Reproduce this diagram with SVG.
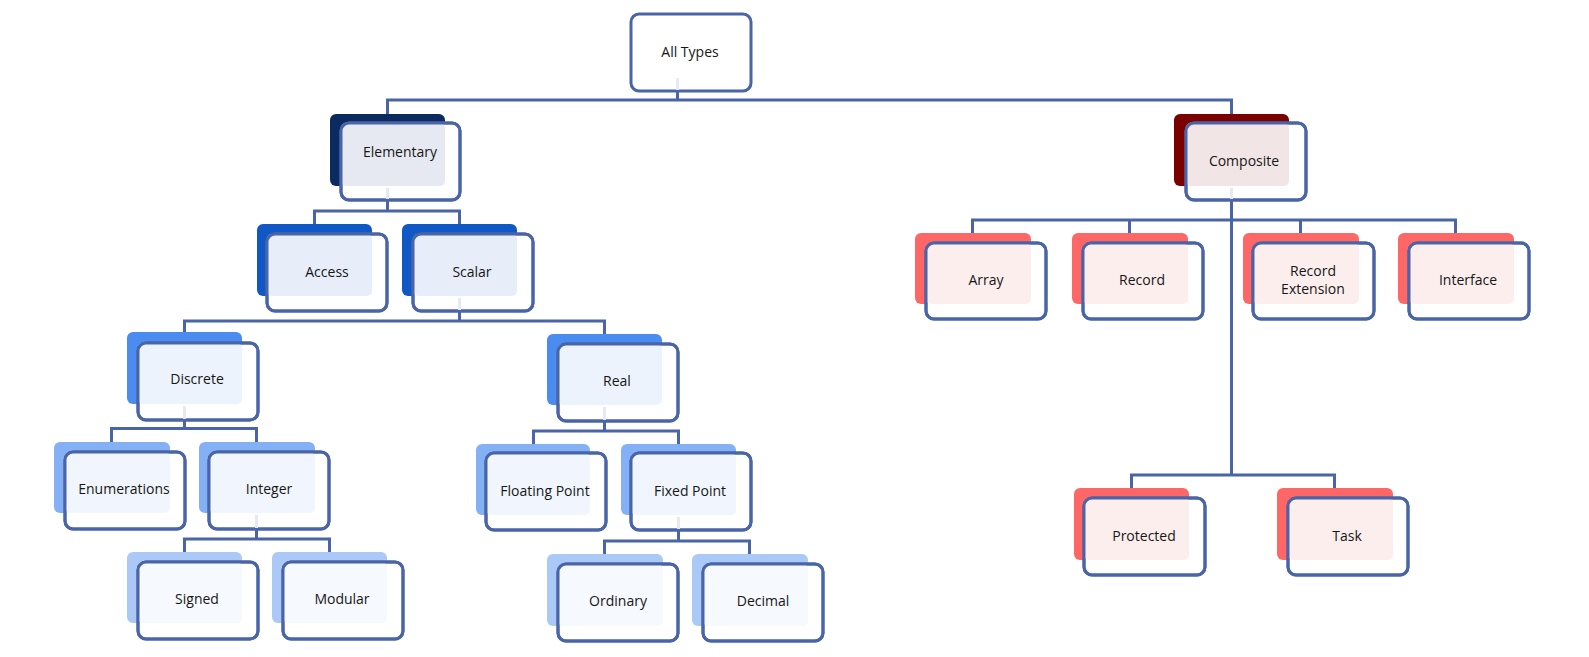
<svg xmlns="http://www.w3.org/2000/svg" width="1589" height="657" viewBox="0 0 1589 657">
  <style>
    .back { stroke: none; }
    .front { fill: #ffffff; stroke: #4a64a8; stroke-width: 3; }
    .frame { fill: none; stroke: #4a64a8; stroke-width: 3; }
    .label { font-family: "Open Sans", "Noto Sans", "Liberation Sans", sans-serif; font-size: 14px; fill: #161616; text-anchor: middle; }
    .wire { fill: none; stroke: #4a64a8; stroke-width: 3; }
    .faint { fill: none; stroke: #e6e9f3; stroke-width: 3; }
    .l1 .back { fill: #0b2b60; } .l1 .tint { fill: #e6e9f2; }
    .cp .back { fill: #7b0000; } .cp .tint { fill: #f2e5e6; }
    .l2 .back { fill: #1158c7; } .l2 .tint { fill: #e7eef9; }
    .l3 .back { fill: #4a8cf0; } .l3 .tint { fill: #edf3fd; }
    .l4 .back { fill: #84b0f5; } .l4 .tint { fill: #f1f6fe; }
    .l5 .back { fill: #aac9f7; } .l5 .tint { fill: #f6f9fe; }
    .rd .back { fill: #ff6666; } .rd .tint { fill: #fdeeee; }
  </style>

  <rect width="1589" height="657" fill="#ffffff"/>

  <!-- each node: coloured back card, white front card, tinted overlap, outline -->
  <g id="node-all-types">
    <rect class="front" x="631" y="14" width="120" height="77" rx="8"/>
    <text class="label" x="690" y="57">All Types</text>
  </g>

  <g id="node-elementary" class="l1">
    <rect class="back" x="330" y="114" width="115" height="72" rx="6"/>
    <rect class="front" x="341" y="123" width="119" height="77" rx="8" stroke="none"/>
    <rect class="tint" x="341" y="123" width="104" height="63" rx="5"/>
    <rect class="frame" x="341" y="123" width="119" height="77" rx="8"/>
    <text class="label" x="400" y="157">Elementary</text>
  </g>

  <g id="node-composite" class="cp">
    <rect class="back" x="1174" y="114" width="115" height="72" rx="6"/>
    <rect class="front" x="1186" y="123" width="120" height="77" rx="8" stroke="none"/>
    <rect class="tint" x="1186" y="123" width="103" height="63" rx="5"/>
    <rect class="frame" x="1186" y="123" width="120" height="77" rx="8"/>
    <text class="label" x="1244" y="166">Composite</text>
  </g>

  <g id="node-access" class="l2">
    <rect class="back" x="257" y="224" width="115" height="72" rx="6"/>
    <rect class="front" x="267" y="234" width="120" height="77" rx="8" stroke="none"/>
    <rect class="tint" x="267" y="234" width="105" height="62" rx="5"/>
    <rect class="frame" x="267" y="234" width="120" height="77" rx="8"/>
    <text class="label" x="327" y="277">Access</text>
  </g>

  <g id="node-scalar" class="l2">
    <rect class="back" x="402" y="224" width="115" height="72" rx="6"/>
    <rect class="front" x="413" y="234" width="120" height="77" rx="8" stroke="none"/>
    <rect class="tint" x="413" y="234" width="104" height="62" rx="5"/>
    <rect class="frame" x="413" y="234" width="120" height="77" rx="8"/>
    <text class="label" x="472" y="277">Scalar</text>
  </g>

  <g id="node-discrete" class="l3">
    <rect class="back" x="127" y="332" width="115" height="72" rx="6"/>
    <rect class="front" x="138" y="343" width="120" height="77" rx="8" stroke="none"/>
    <rect class="tint" x="138" y="343" width="104" height="61" rx="5"/>
    <rect class="frame" x="138" y="343" width="120" height="77" rx="8"/>
    <text class="label" x="197" y="384">Discrete</text>
  </g>

  <g id="node-real" class="l3">
    <rect class="back" x="547" y="334" width="115" height="71" rx="6"/>
    <rect class="front" x="558" y="344" width="120" height="77" rx="8" stroke="none"/>
    <rect class="tint" x="558" y="344" width="104" height="61" rx="5"/>
    <rect class="frame" x="558" y="344" width="120" height="77" rx="8"/>
    <text class="label" x="617" y="386">Real</text>
  </g>

  <g id="node-enumerations" class="l4">
    <rect class="back" x="54" y="442" width="116" height="71" rx="6"/>
    <rect class="front" x="65" y="452" width="120" height="77" rx="8" stroke="none"/>
    <rect class="tint" x="65" y="452" width="105" height="61" rx="5"/>
    <rect class="frame" x="65" y="452" width="120" height="77" rx="8"/>
    <text class="label" x="124" y="494">Enumerations</text>
  </g>

  <g id="node-integer" class="l4">
    <rect class="back" x="199" y="442" width="116" height="71" rx="6"/>
    <rect class="front" x="209" y="452" width="120" height="77" rx="8" stroke="none"/>
    <rect class="tint" x="209" y="452" width="106" height="61" rx="5"/>
    <rect class="frame" x="209" y="452" width="120" height="77" rx="8"/>
    <text class="label" x="269" y="494">Integer</text>
  </g>

  <g id="node-floating-point" class="l4">
    <rect class="back" x="476" y="444" width="114" height="71" rx="6"/>
    <rect class="front" x="486" y="453" width="120" height="77" rx="8" stroke="none"/>
    <rect class="tint" x="486" y="453" width="104" height="62" rx="5"/>
    <rect class="frame" x="486" y="453" width="120" height="77" rx="8"/>
    <text class="label" x="545" y="496">Floating Point</text>
  </g>

  <g id="node-fixed-point" class="l4">
    <rect class="back" x="621" y="444" width="115" height="71" rx="6"/>
    <rect class="front" x="631" y="453" width="120" height="77" rx="8" stroke="none"/>
    <rect class="tint" x="631" y="453" width="105" height="62" rx="5"/>
    <rect class="frame" x="631" y="453" width="120" height="77" rx="8"/>
    <text class="label" x="690" y="496">Fixed Point</text>
  </g>

  <g id="node-signed" class="l5">
    <rect class="back" x="127" y="552" width="115" height="71" rx="6"/>
    <rect class="front" x="138" y="562" width="120" height="77" rx="8" stroke="none"/>
    <rect class="tint" x="138" y="562" width="104" height="61" rx="5"/>
    <rect class="frame" x="138" y="562" width="120" height="77" rx="8"/>
    <text class="label" x="197" y="604">Signed</text>
  </g>

  <g id="node-modular" class="l5">
    <rect class="back" x="272" y="552" width="115" height="71" rx="6"/>
    <rect class="front" x="283" y="562" width="120" height="77" rx="8" stroke="none"/>
    <rect class="tint" x="283" y="562" width="104" height="61" rx="5"/>
    <rect class="frame" x="283" y="562" width="120" height="77" rx="8"/>
    <text class="label" x="342" y="604">Modular</text>
  </g>

  <g id="node-ordinary" class="l5">
    <rect class="back" x="547" y="554" width="116" height="72" rx="6"/>
    <rect class="front" x="558" y="564" width="120" height="77" rx="8" stroke="none"/>
    <rect class="tint" x="558" y="564" width="105" height="62" rx="5"/>
    <rect class="frame" x="558" y="564" width="120" height="77" rx="8"/>
    <text class="label" x="618" y="606">Ordinary</text>
  </g>

  <g id="node-decimal" class="l5">
    <rect class="back" x="692" y="554" width="116" height="72" rx="6"/>
    <rect class="front" x="703" y="564" width="120" height="77" rx="8" stroke="none"/>
    <rect class="tint" x="703" y="564" width="105" height="62" rx="5"/>
    <rect class="frame" x="703" y="564" width="120" height="77" rx="8"/>
    <text class="label" x="763" y="606">Decimal</text>
  </g>

  <g id="node-array" class="rd">
    <rect class="back" x="915" y="233" width="116" height="71" rx="6"/>
    <rect class="front" x="926" y="243" width="120" height="76" rx="8" stroke="none"/>
    <rect class="tint" x="926" y="243" width="105" height="61" rx="5"/>
    <rect class="frame" x="926" y="243" width="120" height="76" rx="8"/>
    <text class="label" x="986" y="285">Array</text>
  </g>

  <g id="node-record" class="rd">
    <rect class="back" x="1072" y="233" width="116" height="71" rx="6"/>
    <rect class="front" x="1083" y="243" width="120" height="76" rx="8" stroke="none"/>
    <rect class="tint" x="1083" y="243" width="105" height="61" rx="5"/>
    <rect class="frame" x="1083" y="243" width="120" height="76" rx="8"/>
    <text class="label" x="1142" y="285">Record</text>
  </g>

  <g id="node-record-extension" class="rd">
    <rect class="back" x="1243" y="233" width="116" height="71" rx="6"/>
    <rect class="front" x="1253" y="243" width="121" height="76" rx="8" stroke="none"/>
    <rect class="tint" x="1253" y="243" width="106" height="61" rx="5"/>
    <rect class="frame" x="1253" y="243" width="121" height="76" rx="8"/>
    <text class="label" x="1313" y="276">Record</text>
    <text class="label" x="1313" y="294">Extension</text>
  </g>

  <g id="node-interface" class="rd">
    <rect class="back" x="1398" y="233" width="116" height="71" rx="6"/>
    <rect class="front" x="1409" y="243" width="120" height="76" rx="8" stroke="none"/>
    <rect class="tint" x="1409" y="243" width="105" height="61" rx="5"/>
    <rect class="frame" x="1409" y="243" width="120" height="76" rx="8"/>
    <text class="label" x="1468" y="285">Interface</text>
  </g>

  <g id="node-protected" class="rd">
    <rect class="back" x="1074" y="488" width="115" height="72" rx="6"/>
    <rect class="front" x="1084" y="498" width="121" height="77" rx="8" stroke="none"/>
    <rect class="tint" x="1084" y="498" width="105" height="62" rx="5"/>
    <rect class="frame" x="1084" y="498" width="121" height="77" rx="8"/>
    <text class="label" x="1144" y="541">Protected</text>
  </g>

  <g id="node-task" class="rd">
    <rect class="back" x="1277" y="488" width="116" height="72" rx="6"/>
    <rect class="front" x="1288" y="498" width="120" height="77" rx="8" stroke="none"/>
    <rect class="tint" x="1288" y="498" width="105" height="62" rx="5"/>
    <rect class="frame" x="1288" y="498" width="120" height="77" rx="8"/>
    <text class="label" x="1347" y="541">Task</text>
  </g>

  <!-- elbow connectors: parent stub, horizontal bus, child stubs -->
  <g id="connectors">
    <g class="faint">
      <path d="M677.5 78 V90"/>
      <path d="M387.5 188 V199"/>
      <path d="M1231.5 188 V199"/>
      <path d="M459.5 298 V310"/>
      <path d="M184.5 406 V419"/>
      <path d="M604.5 407 V420"/>
      <path d="M256.5 515 V528"/>
      <path d="M678.5 517 V529"/>
    </g>
    <g class="wire">
      <path d="M677.5 91 V100 M387.5 114 V100 H1231.5 V114"/>
      <path d="M387.5 201 V211 M314.5 224 V211 H459.5 V224"/>
      <path d="M1231.5 201 V475 M972.5 233 V220 H1455.5 V233 M1129.5 220 V233 M1300.5 220 V233"/>
      <path d="M1131.5 488 V475 H1334.5 V488"/>
      <path d="M459.5 311 V321 M184.5 332 V321 H604.5 V334"/>
      <path d="M184.5 420 V428.5 M111.5 442 V428.5 H256.5 V442"/>
      <path d="M604.5 421 V431 M533.5 444 V431 H678.5 V444"/>
      <path d="M256.5 529 V539 M184.5 552 V539 H329.5 V552"/>
      <path d="M678.5 530 V541 M604.5 554 V541 H749.5 V554"/>
    </g>
  </g>
</svg>
